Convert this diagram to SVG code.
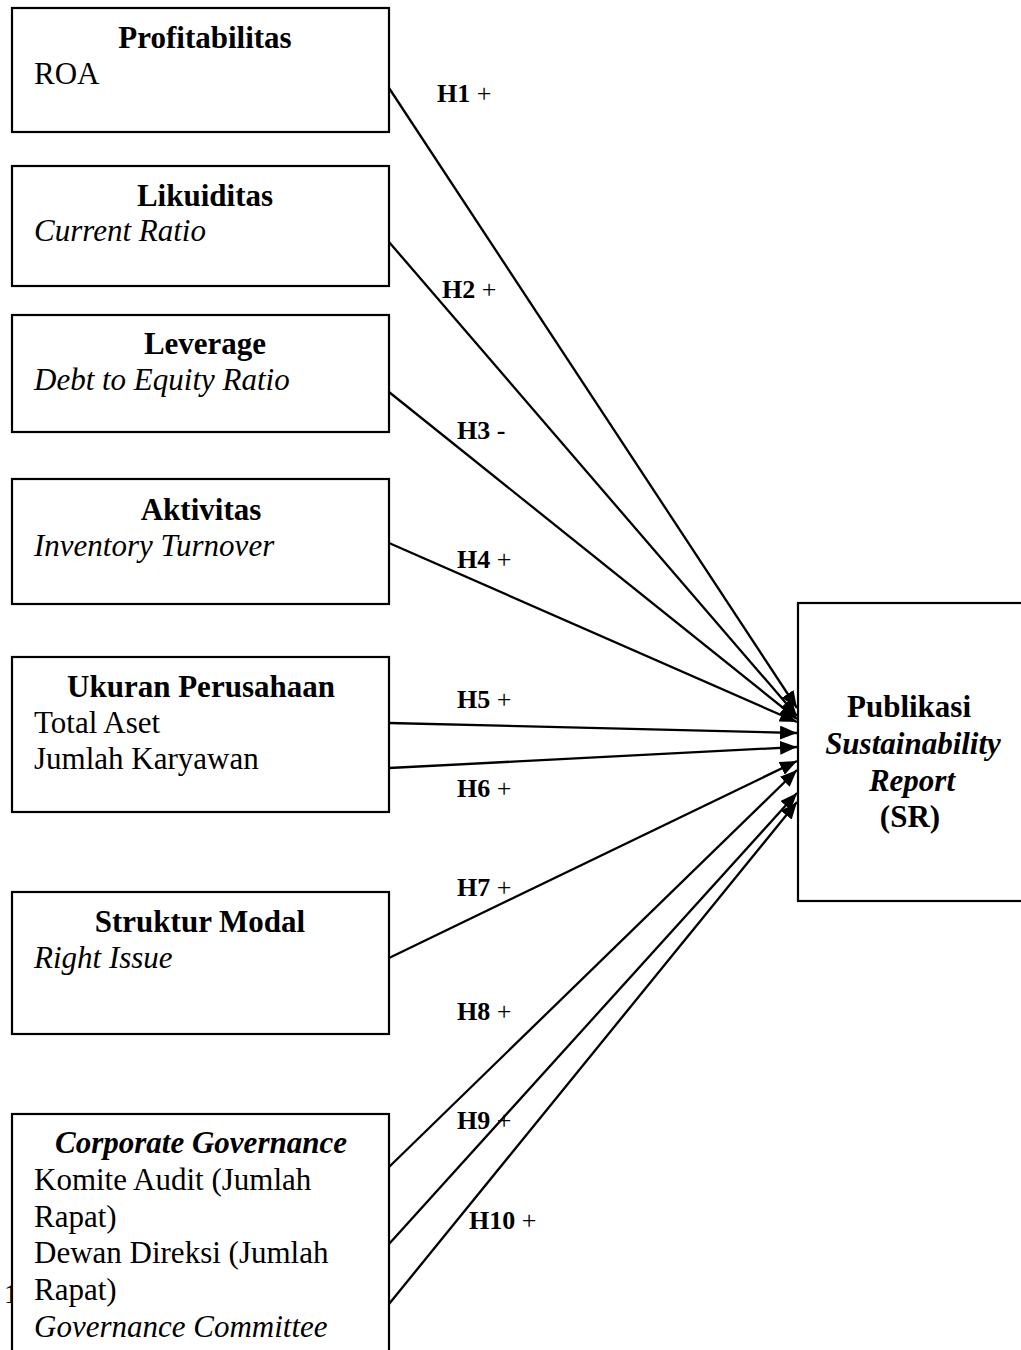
<svg xmlns="http://www.w3.org/2000/svg" width="1021" height="1350" viewBox="0 0 1021 1350">
<defs>
<marker id="ah" markerUnits="userSpaceOnUse" markerWidth="18" markerHeight="15" refX="17" refY="7" orient="auto">
<path d="M0,0 L17,7 L0,14 z" fill="#000"/>
</marker>
<style>
text{font-family:"Liberation Serif","Times New Roman",serif;fill:#000}
.box{fill:#fff;stroke:#000;stroke-width:2.2}
.t{font-size:31px;font-weight:bold;text-anchor:middle}
.s{font-size:31px}
.i{font-style:italic}
.bi{font-style:italic;font-weight:bold}
.c line{stroke:#000;stroke-width:2.3;marker-end:url(#ah)}
.h{font-size:26px}
.hb{font-weight:bold}
</style>
</defs>
<rect width="1021" height="1350" fill="#fff"/>
<text x="4" y="1303" style="font-size:28px;fill:#000">1</text>

<g id="connectors" class="c">
<line x1="389" y1="88" x2="797" y2="708"/>
<line x1="389" y1="242" x2="797" y2="716"/>
<line x1="389" y1="392" x2="797" y2="719"/>
<line x1="389" y1="543" x2="797" y2="722"/>
<line x1="389" y1="723" x2="797" y2="733"/>
<line x1="389" y1="768" x2="797" y2="747"/>
<line x1="389" y1="958" x2="797" y2="761"/>
<line x1="389" y1="1167" x2="797" y2="770"/>
<line x1="389" y1="1244" x2="797" y2="793"/>
<line x1="389" y1="1304" x2="797" y2="802"/>
</g>

<g id="labels" class="h">
<text x="437" y="102"><tspan class="hb">H1</tspan> +</text>
<text x="442" y="298"><tspan class="hb">H2</tspan> +</text>
<text x="457" y="439"><tspan class="hb">H3 -</tspan></text>
<text x="457" y="568"><tspan class="hb">H4</tspan> +</text>
<text x="457" y="708"><tspan class="hb">H5</tspan> +</text>
<text x="457" y="797"><tspan class="hb">H6</tspan> +</text>
<text x="457" y="896"><tspan class="hb">H7</tspan> +</text>
<text x="457" y="1020"><tspan class="hb">H8</tspan> +</text>
<text x="457" y="1129"><tspan class="hb">H9</tspan> +</text>
<text x="469" y="1229"><tspan class="hb">H10</tspan> +</text>
</g>

<g id="profitabilitas">
<rect class="box" x="12" y="8" width="377" height="124"/>
<text class="t" x="205" y="48">Profitabilitas</text>
<text class="s" x="34" y="84">ROA</text>
</g>
<g id="likuiditas">
<rect class="box" x="12" y="166" width="377" height="120"/>
<text class="t" x="205" y="206">Likuiditas</text>
<text class="s i" x="34" y="241">Current Ratio</text>
</g>
<g id="leverage">
<rect class="box" x="12" y="315" width="377" height="117"/>
<text class="t" x="205" y="354">Leverage</text>
<text class="s i" x="34" y="390">Debt to Equity Ratio</text>
</g>
<g id="aktivitas">
<rect class="box" x="12" y="479" width="377" height="125"/>
<text class="t" x="201" y="520">Aktivitas</text>
<text class="s i" x="34" y="556">Inventory Turnover</text>
</g>
<g id="ukuran">
<rect class="box" x="12" y="657" width="377" height="155"/>
<text class="t" x="201" y="697">Ukuran Perusahaan</text>
<text class="s" x="34" y="733">Total Aset</text>
<text class="s" x="34" y="769">Jumlah Karyawan</text>
</g>
<g id="struktur">
<rect class="box" x="12" y="892" width="377" height="142"/>
<text class="t" x="200" y="932">Struktur Modal</text>
<text class="s i" x="34" y="968">Right Issue</text>
</g>
<g id="governance">
<rect class="box" x="12" y="1114" width="377" height="250"/>
<text class="t bi" x="201" y="1153">Corporate Governance</text>
<text class="s" x="34" y="1190">Komite Audit (Jumlah</text>
<text class="s" x="34" y="1227">Rapat)</text>
<text class="s" x="34" y="1263">Dewan Direksi (Jumlah</text>
<text class="s" x="34" y="1300">Rapat)</text>
<text class="s i" x="34" y="1337">Governance Committee</text>
</g>
<g id="sr">
<rect class="box" x="798" y="603" width="240" height="298"/>
<text class="t" x="909" y="717">Publikasi</text>
<text class="t bi" x="913" y="754">Sustainability</text>
<text class="t bi" x="912" y="791">Report</text>
<text class="t" x="910" y="827">(SR)</text>
</g>
</svg>
